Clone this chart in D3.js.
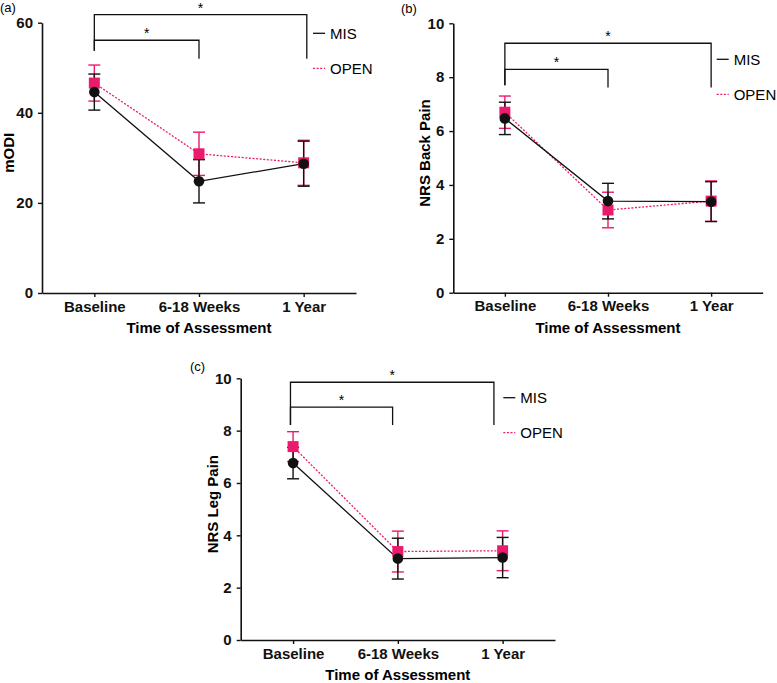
<!DOCTYPE html>
<html>
<head>
<meta charset="utf-8">
<script src="https://cdn.jsdelivr.net/npm/d3@7"></script>
<style>
  body { margin: 0; background: #fff; }
  svg { display: block; font-family: "Liberation Sans", Arial, Helvetica, sans-serif; }
</style>
</head>
<body>
<svg id="fig" width="777" height="683"></svg>
<script>
// categorias do eixo X (iguais nos tres paineis)
const categories = ["Baseline", "6-18 Weeks", "1 Year"];

// (a) mODI
const modiMisMean = [44.6, 24.8, 28.7];
const modiMisErr = [4.0, 4.8, 5.0];
const modiOpenMean = [46.6, 30.9, 28.9];
const modiOpenErr = [4.0, 4.8, 5.0];
const modiTicks = [0, 20, 40, 60];

// (b) NRS Back Pain
const backMisMean = [6.47, 3.40, 3.38];
const backMisErr = [0.60, 0.66, 0.74];
const backOpenMean = [6.70, 3.07, 3.40];
const backOpenErr = [0.60, 0.66, 0.75];

// (c) NRS Leg Pain
const legMisMean = [6.76, 3.11, 3.15];
const legMisErr = [0.60, 0.78, 0.77];
const legOpenMean = [7.39, 3.38, 3.41];
const legOpenErr = [0.57, 0.78, 0.76];

const nrsTicks = [0, 2, 4, 6, 8, 10];

// colchetes de significancia: indices de categoria e alturas em unidades do eixo Y
const modiBrackets = [
  { from: 0, to: 1, level: 56.1, dropFrom: 53.8, dropTo: 52.0 },
  { from: 0, to: 2.03, level: 61.8, dropFrom: 53.8, dropTo: 52.0 }
];
const backBrackets = [
  { from: 0, to: 1, level: 8.29, dropFrom: 7.70, dropTo: 7.62 },
  { from: 0, to: 2, level: 9.26, dropFrom: 7.70, dropTo: 7.62 }
];
const legBrackets = [
  { from: -0.025, to: 0.95, level: 8.90, dropFrom: 8.22, dropTo: 8.22 },
  { from: -0.025, to: 1.917, level: 9.85, dropFrom: 8.22, dropTo: 8.22 }
];

const PINK = "#ec1a6c";
const BLACK = "#111";

const svg = d3.select("#fig");

const panels = [
  {
    label: "(a)", labelX: 0, labelY: 12,
    left: 42, top: 22.7, width: 314, height: 270.3,
    domain: [0, 60], ticks: modiTicks, yTitle: "mODI", yTitleDx: -28,
    mis: [modiMisMean, modiMisErr], open: [modiOpenMean, modiOpenErr],
    brackets: modiBrackets, legendDx: -43, legendDy: 10.6
  },
  {
    label: "(b)", labelX: 401, labelY: 13,
    left: 453.3, top: 23.3, width: 309.4, height: 269.4,
    domain: [0, 10], ticks: nrsTicks, yTitle: "NRS Back Pain", yTitleDx: -23.5,
    mis: [backMisMean, backMisErr], open: [backOpenMean, backOpenErr],
    brackets: backBrackets, legendDx: -46, legendDy: 36
  },
  {
    label: "(c)", labelX: 190, labelY: 371,
    left: 240.7, top: 378.3, width: 314.3, height: 261.7,
    domain: [0, 10], ticks: nrsTicks, yTitle: "NRS Leg Pain", yTitleDx: -22.5,
    mis: [legMisMean, legMisErr], open: [legOpenMean, legOpenErr],
    brackets: legBrackets, legendDx: -51.7, legendDy: 19.4
  }
];

panels.forEach(renderPanel);

function renderPanel(p) {
  const g = svg.append("g")
    .attr("transform", `translate(${p.left},${p.top})`);

  const x = d3.scalePoint()
    .domain(categories)
    .range([0, p.width])
    .padding(0.5);

  const y = d3.scaleLinear()
    .domain(p.domain)
    .range([p.height, 0]);

  // posicao fracionaria entre categorias (para os colchetes)
  const xi = i => x(categories[0]) + i * x.step();

  // rotulo do painel
  svg.append("text")
    .attr("x", p.labelX)
    .attr("y", p.labelY)
    .style("font-size", "13px")
    .text(p.label);

  // eixo Y
  const yAxis = g.append("g")
    .call(d3.axisLeft(y).tickValues(p.ticks).tickSize(4).tickPadding(5).tickSizeOuter(0));
  // eixo X
  const xAxis = g.append("g")
    .attr("transform", `translate(0,${p.height})`)
    .call(d3.axisBottom(x).tickSize(4).tickPadding(4).tickSizeOuter(0));

  [yAxis, xAxis].forEach(ax => {
    ax.select(".domain").attr("stroke", BLACK).attr("stroke-width", 1.6);
    ax.selectAll(".tick line").attr("stroke", BLACK).attr("stroke-width", 1.4);
    ax.selectAll(".tick text")
      .attr("fill", BLACK)
      .style("font-size", "15px")
      .style("font-weight", "bold")
      .style("font-family", "'Liberation Sans', Arial, sans-serif");
  });

  // titulos dos eixos
  g.append("text")
    .attr("transform", `translate(${p.yTitleDx},${p.height / 2 - 5}) rotate(-90)`)
    .attr("text-anchor", "middle")
    .style("font-size", "15px")
    .style("font-weight", "bold")
    .text(p.yTitle);

  g.append("text")
    .attr("x", x(categories[1]))
    .attr("y", p.height + 40)
    .attr("text-anchor", "middle")
    .style("font-size", "15px")
    .style("font-weight", "bold")
    .text("Time of Assessment");

  // colchetes de significancia
  p.brackets.forEach(b => {
    g.append("path")
      .attr("fill", "none")
      .attr("stroke", BLACK)
      .attr("stroke-width", 1.3)
      .attr("d", `M${xi(b.from)},${y(b.dropFrom)}V${y(b.level)}H${xi(b.to)}V${y(b.dropTo)}`);
    g.append("text")
      .attr("x", (xi(b.from) + xi(b.to)) / 2)
      .attr("y", y(b.level) - 2)
      .attr("text-anchor", "middle")
      .style("font-size", "14px")
      .text("*");
  });

  const series = [
    { key: "OPEN", mean: p.open[0], err: p.open[1], color: PINK, dash: "2,1.6" },
    { key: "MIS", mean: p.mis[0], err: p.mis[1], color: BLACK, dash: null }
  ];

  const line = d3.line()
    .x((d, i) => x(categories[i]))
    .y(d => y(d));

  // linhas
  series.forEach(s => {
    g.append("path")
      .datum(s.mean)
      .attr("fill", "none")
      .attr("stroke", s.color)
      .attr("stroke-width", 1.3)
      .attr("stroke-dasharray", s.dash)
      .attr("d", line);
  });

  // barras de erro
  series.forEach(s => {
    const eg = g.append("g").attr("stroke", s.color).attr("stroke-width", 1.4);
    s.mean.forEach((m, i) => {
      const cx = x(categories[i]);
      const lo = y(m - s.err[i]);
      const hi = y(m + s.err[i]);
      eg.append("line").attr("x1", cx).attr("x2", cx).attr("y1", lo).attr("y2", hi);
      eg.append("line").attr("x1", cx - 6).attr("x2", cx + 6).attr("y1", lo).attr("y2", lo);
      eg.append("line").attr("x1", cx - 6).attr("x2", cx + 6).attr("y1", hi).attr("y2", hi);
    });
  });

  // marcadores: quadrado (OPEN) e circulo (MIS)
  g.selectAll("rect.open")
    .data(p.open[0])
    .enter()
    .append("rect")
    .attr("class", "open")
    .attr("x", (d, i) => x(categories[i]) - 5.5)
    .attr("y", d => y(d) - 5.5)
    .attr("width", 11)
    .attr("height", 11)
    .attr("fill", PINK);

  g.selectAll("circle.mis")
    .data(p.mis[0])
    .enter()
    .append("circle")
    .attr("class", "mis")
    .attr("cx", (d, i) => x(categories[i]))
    .attr("cy", d => y(d))
    .attr("r", 5.3)
    .attr("fill", BLACK);

  // legenda
  const lg = g.append("g")
    .attr("transform", `translate(${p.width + p.legendDx},${p.legendDy})`);
  series.slice().reverse().forEach((s, i) => {
    lg.append("line")
      .attr("x1", 0).attr("x2", 12)
      .attr("y1", i * 35).attr("y2", i * 35)
      .attr("stroke", s.color)
      .attr("stroke-width", 1.3)
      .attr("stroke-dasharray", s.dash);
    lg.append("text")
      .attr("x", 17)
      .attr("y", i * 35)
      .attr("dy", "0.35em")
      .style("font-size", "15px")
      .text(s.key);
  });
}
</script>
</body>
</html>
